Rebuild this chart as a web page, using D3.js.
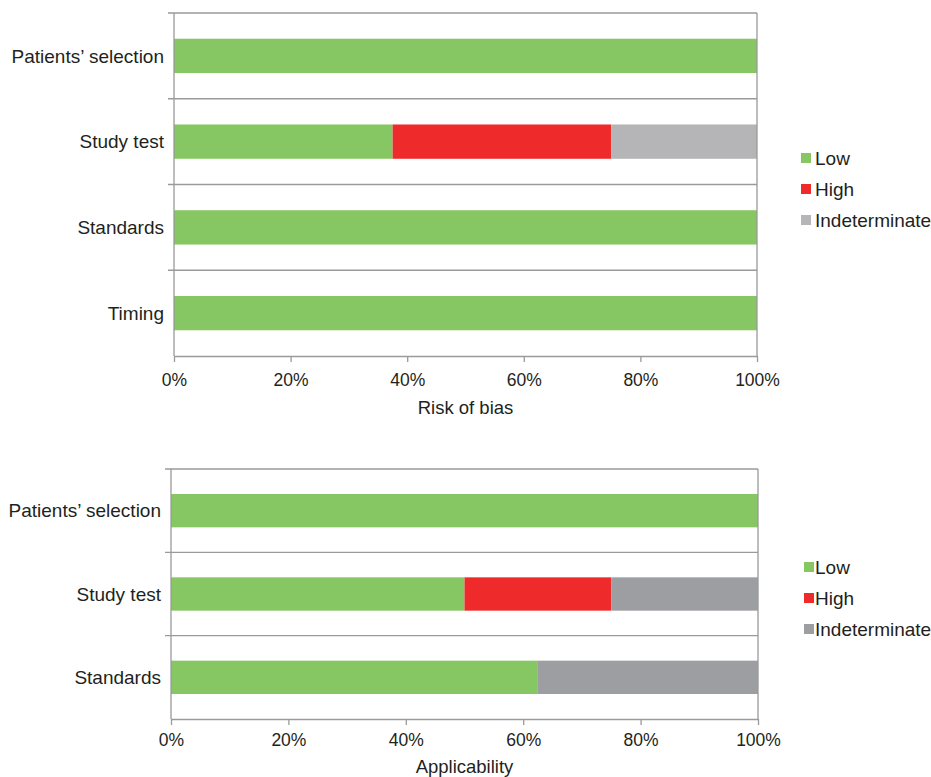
<!DOCTYPE html>
<html lang="en">
<head>
  <meta charset="utf-8">
  <title>QUADAS-2</title>
  <script src="https://cdn.jsdelivr.net/npm/d3@7/dist/d3.min.js"></script>
  <style>
    * { margin: 0; padding: 0; }
    body { background: #fff; }
    text { font-family: "Liberation Sans", Arial, sans-serif; fill: #231f20; }
  </style>
</head>
<body>
  <div id="chart"></div>
  <script>
    // data (percent of studies)
    var legendLabels = ["Low", "High", "Indeterminate"];
    var xTicks = [0, 20, 40, 60, 80, 100];

    var biasCategories = ["Patients’ selection", "Study test", "Standards", "Timing"];
    var biasLow = [100, 37.5, 100, 100];
    var biasHigh = [0, 37.5, 0, 0];
    var biasIndet = [0, 25, 0, 0];

    var applCategories = ["Patients’ selection", "Study test", "Standards"];
    var applLow = [100, 50, 62.5];
    var applHigh = [0, 25, 0];
    var applIndet = [0, 25, 37.5];

    var svgWidth = 931, svgHeight = 777;
    var axisColor = "#9a9a9a";

    var svg = d3.select("#chart").append("svg")
        .attr("width", svgWidth)
        .attr("height", svgHeight);

    // one panel = stacked horizontal bars + frame + legend
    function drawPanel(cfg) {
      var rows = cfg.categories.map(function(c, i) {
        return { cat: c, Low: cfg.low[i], High: cfg.high[i], Indeterminate: cfg.indet[i] };
      });
      var series = d3.stack().keys(legendLabels)(rows);

      var x = d3.scaleLinear().domain([0, 100]).range([cfg.left, cfg.right]);
      var y = d3.scaleBand().domain(cfg.categories).range([cfg.top, cfg.bottom]);
      var color = d3.scaleOrdinal().domain(legendLabels).range(cfg.colors);
      var barH = y.bandwidth() * 0.4;

      var g = svg.append("g");

      // bars
      g.selectAll("g.series").data(series).enter().append("g")
        .attr("fill", function(d) { return color(d.key); })
        .selectAll("rect").data(function(d) { return d; }).enter().append("rect")
        .attr("x", function(d) { return x(d[0]); })
        .attr("width", function(d) { return x(d[1]) - x(d[0]); })
        .attr("y", function(d) { return y(d.data.cat) + (y.bandwidth() - barH) / 2; })
        .attr("height", barH);

      // row separators (with small ticks left of the axis)
      var bounds = cfg.categories.map(function(c) { return y(c); });
      g.selectAll("line.sep").data(bounds).enter().append("line")
        .attr("x1", cfg.left - 6).attr("x2", x(100))
        .attr("y1", function(d) { return d; }).attr("y2", function(d) { return d; })
        .attr("stroke", axisColor).attr("stroke-width", 1.3);

      // left axis and right border
      g.append("line").attr("x1", cfg.left).attr("x2", cfg.left)
        .attr("y1", cfg.top).attr("y2", cfg.bottom)
        .attr("stroke", axisColor).attr("stroke-width", 1.3);
      g.append("line").attr("x1", cfg.right).attr("x2", cfg.right)
        .attr("y1", cfg.top).attr("y2", cfg.bottom)
        .attr("stroke", axisColor).attr("stroke-width", 1.3);

      // category labels
      g.selectAll("text.cat").data(cfg.categories).enter().append("text")
        .attr("x", cfg.left - 10)
        .attr("y", function(d) { return y(d) + y.bandwidth() / 2; })
        .attr("dy", "0.35em")
        .attr("text-anchor", "end")
        .attr("font-size", "19px")
        .text(function(d) { return d; });

      // bottom axis
      var xAxis = d3.axisBottom(x).tickValues(xTicks)
        .tickFormat(function(d) { return d + "%"; })
        .tickSize(6).tickSizeOuter(0).tickPadding(cfg.tickPad);
      var xg = g.append("g")
        .attr("transform", "translate(0," + cfg.bottom + ")")
        .call(xAxis);
      xg.select(".domain").attr("stroke", axisColor).attr("stroke-width", 1.3);
      xg.selectAll(".tick line").attr("stroke", axisColor).attr("stroke-width", 1.3);
      xg.selectAll(".tick text")
        .attr("font-size", "17.5px")
        .attr("font-family", "Liberation Sans, Arial, sans-serif")
        .attr("fill", "#231f20");

      g.append("text")
        .attr("x", (cfg.left + cfg.right) / 2)
        .attr("y", cfg.titleY)
        .attr("text-anchor", "middle")
        .attr("font-size", "18.5px")
        .text(cfg.title);

      // legend
      var lg = g.append("g").selectAll("g").data(legendLabels).enter().append("g")
        .attr("transform", function(d, i) {
          return "translate(" + cfg.legendX + "," + (cfg.legendY + i * 31) + ")";
        });
      lg.append("rect").attr("x", 0).attr("y", -5).attr("width", 10).attr("height", 10)
        .attr("fill", function(d) { return color(d); });
      lg.append("text").attr("x", cfg.legendTextX).attr("dy", "0.35em")
        .attr("font-size", "19px")
        .text(function(d) { return d; });
    }

    drawPanel({
      categories: biasCategories, low: biasLow, high: biasHigh, indet: biasIndet,
      left: 174, right: 757, top: 13, bottom: 356,
      title: "Risk of bias", titleY: 414, tickPad: 12,
      colors: ["#86c663", "#ee2a2b", "#b5b5b7"],
      legendX: 801, legendY: 158, legendTextX: 14
    });

    drawPanel({
      categories: applCategories, low: applLow, high: applHigh, indet: applIndet,
      left: 171, right: 758, top: 469, bottom: 719,
      title: "Applicability", titleY: 773, tickPad: 9,
      colors: ["#86c663", "#ee2a2b", "#9d9ea1"],
      legendX: 804, legendY: 567, legendTextX: 11
    });
  </script>
</body>
</html>
